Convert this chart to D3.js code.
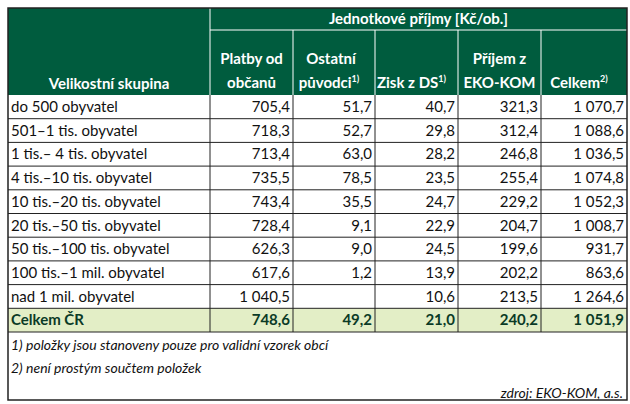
<!DOCTYPE html><html><head><meta charset="utf-8"><script src="https://cdn.jsdelivr.net/npm/d3@7"></script>
<style>body{margin:0;background:#fff}</style></head><body><svg id="c" width="630" height="404"></svg><script>
const categories=["do 500 obyvatel","501–1 tis. obyvatel","1 tis.– 4 tis. obyvatel","4 tis.–10 tis. obyvatel","10 tis.–20 tis. obyvatel","20 tis.–50 tis. obyvatel","50 tis.–100 tis. obyvatel","100 tis.–1 mil. obyvatel","nad 1 mil. obyvatel"];
const platby=["705,4","718,3","713,4","735,5","743,4","728,4","626,3","617,6","1 040,5"];
const ostatni=["51,7","52,7","63,0","78,5","35,5","9,1","9,0","1,2",""];
const zisk=["40,7","29,8","28,2","23,5","24,7","22,9","24,5","13,9","10,6"];
const ekokom=["321,3","312,4","246,8","255,4","229,2","204,7","199,6","202,2","213,5"];
const celkem=["1 070,7","1 088,6","1 036,5","1 074,8","1 052,3","1 008,7","931,7","863,6","1 264,6"];
const total=["Celkem ČR","748,6","49,2","21,0","240,2","1 051,9"];
const svg=d3.select("#c"),F="Lato, 'Open Sans', sans-serif",G="#005c3e";
const xs=[8,210,293,375,458,541,627];
const y=d3.scaleLinear().domain([0,10]).range([95,332]);
svg.append("rect").attr("x",xs[0]).attr("y",8).attr("width",xs[6]-xs[0]).attr("height",87).attr("fill",G);
svg.append("line").attr("x1",xs[1]).attr("x2",xs[6]).attr("y1",30).attr("y2",30).attr("stroke","#fff");
for(let i=1;i<6;i++)svg.append("line").attr("x1",xs[i]).attr("x2",xs[i]).attr("y1",i==1?8:30).attr("y2",95).attr("stroke","#fff");
const ht=(x,yy,t,anchor)=>svg.append("text").attr("x",x).attr("y",yy).attr("fill","#fff").attr("font-family",F).attr("font-weight","bold").attr("font-size",15).attr("text-anchor",anchor||"middle").text(t);
ht((xs[1]+xs[6])/2,24,"Jednotkové příjmy [Kč/ob.]");
ht((xs[0]+xs[1])/2,89,"Velikostní skupina");
const heads=[["Platby od","občanů",""],["Ostatní","původci","1)"],["","Zisk z DS","1)"],["Příjem z","EKO-KOM",""],["","Celkem","2)"]];
heads.forEach((h,i)=>{const cx=(xs[i+1]+xs[i+2])/2;
 if(h[0])ht(cx-(h[2]?3:0),64,h[0]);
 const t=ht(cx-(h[2]?5:0),88,h[1]);
 if(h[2])t.append("tspan").attr("font-size",9).attr("dy",-6).text(h[2]);});
const cols=[platby,ostatni,zisk,ekokom,celkem];
svg.append("rect").attr("x",xs[0]).attr("y",y(9)).attr("width",xs[6]-xs[0]).attr("height",y(10)-y(9)).attr("fill","#e3eec6");
const txt=(x,yy,t,a,b)=>svg.append("text").attr("x",x).attr("y",yy).attr("font-family",F).attr("font-size",15).attr("font-weight",b?"bold":"normal").attr("fill",b?"#0b3b26":"#111").attr("text-anchor",a).text(t);
categories.forEach((c,r)=>{const yy=y(r)+17;txt(xs[0]+3,yy,c,"start");cols.forEach((col,k)=>txt(xs[k+2]-3,yy,col[r],"end"));});
total.forEach((t,k)=>txt(k==0?xs[0]+3:xs[k+1]-3,y(9)+17,t,k==0?"start":"end",true));
for(let r=1;r<=10;r++)svg.append("line").attr("x1",xs[0]).attr("x2",xs[6]).attr("y1",y(r)).attr("y2",y(r)).attr("stroke","#222");
for(let i=1;i<6;i++)svg.append("line").attr("x1",xs[i]).attr("x2",xs[i]).attr("y1",95).attr("y2",y(10)).attr("stroke","#222");
svg.append("rect").attr("x",xs[0]).attr("y",8).attr("width",xs[6]-xs[0]).attr("height",392).attr("fill","none").attr("stroke","#222").attr("stroke-width",1.5);
const it=(x,yy,t,a)=>svg.append("text").attr("x",x).attr("y",yy).attr("font-family",F).attr("font-style","italic").attr("font-size",14).attr("fill","#111").attr("text-anchor",a).text(t);
it(xs[0]+3,350,"1) položky jsou stanoveny pouze pro validní vzorek obcí","start");
it(xs[0]+3,373,"2) není prostým součtem položek","start");
it(xs[6]-4,398,"zdroj: EKO-KOM, a.s.","end");
</script></body></html>
